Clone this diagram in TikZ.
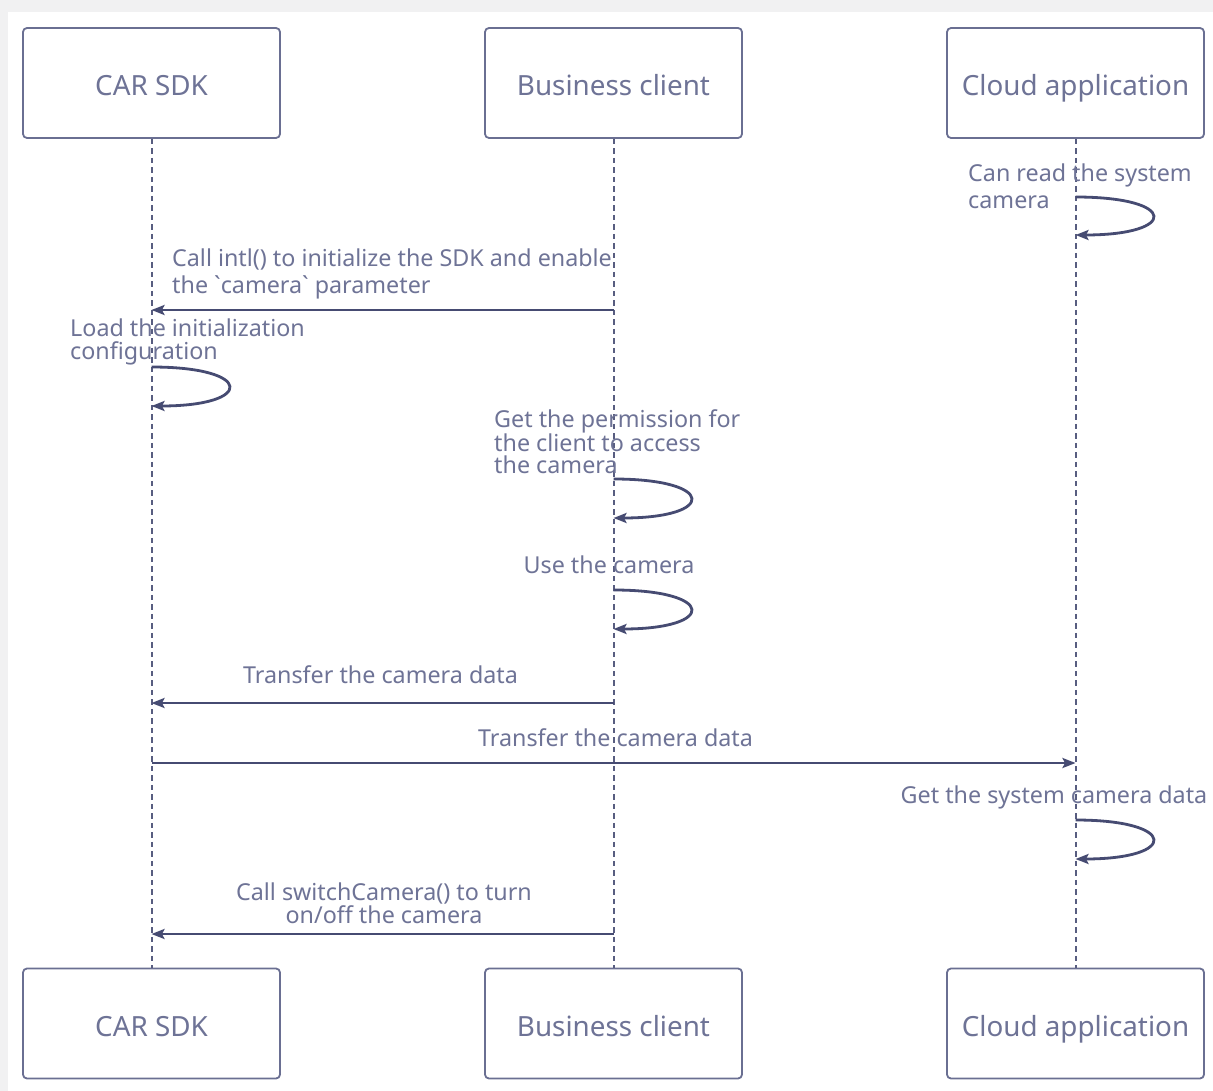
\documentclass[tikz,border=0pt]{standalone}
\usepackage{fontspec}
\setmainfont{Noto Sans}
\usetikzlibrary{arrows.meta}
\definecolor{ink}{HTML}{6E7396}
\definecolor{boxc}{HTML}{6A6F92}
\definecolor{lifec}{HTML}{585D80}
\definecolor{linec}{HTML}{464B72}
\definecolor{pagegray}{HTML}{F1F1F2}
\begin{document}
\begin{tikzpicture}[x=1pt,y=-1pt,
  actor/.style={draw=boxc, line width=1.8pt, rounded corners=4pt,
    minimum width=257pt, minimum height=110pt, inner sep=0pt,
    text=ink, font=\fontsize{27.8}{30}\selectfont,
    text height=25.8pt, text depth=0pt},
  life/.style={draw=lifec, line width=2pt, dash pattern=on 5.5pt off 4pt},
  msg/.style={draw=linec, line width=2.8pt,
    -{Stealth[length=13pt,width=10pt,inset=2.5pt]}},
  selfloop/.style={msg},
  lbl/.style={text=ink, inner sep=0pt, font=\fontsize{23.3}{22.5}\selectfont},
  lblwide/.style={text=ink, inner sep=0pt, font=\fontsize{23.3}{27}\selectfont},
]
% page and card
\useasboundingbox (0,0) rectangle (1213,1091);
\fill[pagegray] (0,0) rectangle (1213,1091);
\fill[white] (8,12) rectangle (1213,1091);

% participants
\node[actor] (sdkT)   at (151.5,83)   {CAR SDK};
\node[actor] (bizT)   at (613.5,83)   {Business client};
\node[actor] (cloudT) at (1075.5,83)  {Cloud application};
\node[actor] (sdkB)   at (151.5,1023.5)  {CAR SDK};
\node[actor] (bizB)   at (613.5,1023.5)  {Business client};
\node[actor] (cloudB) at (1075.5,1023.5) {Cloud application};

% lifelines
\draw[life] (sdkT.south) -- (sdkB.north);
\draw[life] (bizT.south) -- (bizB.north);
\draw[life] (cloudT.south) -- (cloudB.north);

% points on the lifelines
\coordinate (c1a) at (cloudT.south |- 0,197);
\coordinate (c1b) at (cloudT.south |- 0,235);
\coordinate (m1a) at (bizT.south |- 0,310);
\coordinate (m1b) at (sdkT.south |- 0,310);
\coordinate (s1a) at (sdkT.south |- 0,367);
\coordinate (s1b) at (sdkT.south |- 0,406);
\coordinate (b1a) at (bizT.south |- 0,479);
\coordinate (b1b) at (bizT.south |- 0,518);
\coordinate (b2a) at (bizT.south |- 0,590);
\coordinate (b2b) at (bizT.south |- 0,629);
\coordinate (m2a) at (bizT.south |- 0,703);
\coordinate (m2b) at (sdkT.south |- 0,703);
\coordinate (m3a) at (sdkT.south |- 0,763);
\coordinate (m3b) at (cloudT.south |- 0,763);
\coordinate (c2a) at (cloudT.south |- 0,820);
\coordinate (c2b) at (cloudT.south |- 0,859);
\coordinate (m4a) at (bizT.south |- 0,934);
\coordinate (m4b) at (sdkT.south |- 0,934);

% self calls
\draw[selfloop] (c1a) .. controls +(103,0) and +(103,0) .. (c1b);
\draw[selfloop] (s1a) .. controls +(103,0) and +(103,0) .. (s1b);
\draw[selfloop] (b1a) .. controls +(103,0) and +(103,0) .. (b1b);
\draw[selfloop] (b2a) .. controls +(103,0) and +(103,0) .. (b2b);
\draw[selfloop] (c2a) .. controls +(103,0) and +(103,0) .. (c2b);

% messages
\draw[msg] (m1a) -- (m1b);
\draw[msg] (m2a) -- (m2b);
\draw[msg] (m3a) -- (m3b);
\draw[msg] (m4a) -- (m4b);

% labels
\node[lblwide, align=left, anchor=north west] (t1) at (968,164)
  {Can read the system\\camera};
\node[lblwide, align=left, anchor=north west] (t2) at (172,249)
  {Call intl() to initialize the SDK and enable\\the \textasciigrave camera\textasciigrave{} parameter};
\node[lbl, align=left, anchor=north west] (t3) at (70,319)
  {Load the initialization\\configuration};
\node[lbl, align=left, anchor=north west] (t4) at (494,409)
  {Get the permission for\\the client to access\\the camera};
\node[lbl, anchor=base] (t5) at (609,573) {Use the camera};
\node[lbl, anchor=base] (t6) at (380.5,683) {Transfer the camera data};
\node[lbl, anchor=base] (t7) at (615.5,746) {Transfer the camera data};
\node[lbl, anchor=base] (t8) at (1054,803) {Get the system camera data};
\node[lbl, align=center, anchor=north] (t9) at (384,883)
  {Call switchCamera() to turn\\on/off the camera};
\end{tikzpicture}
\end{document}
